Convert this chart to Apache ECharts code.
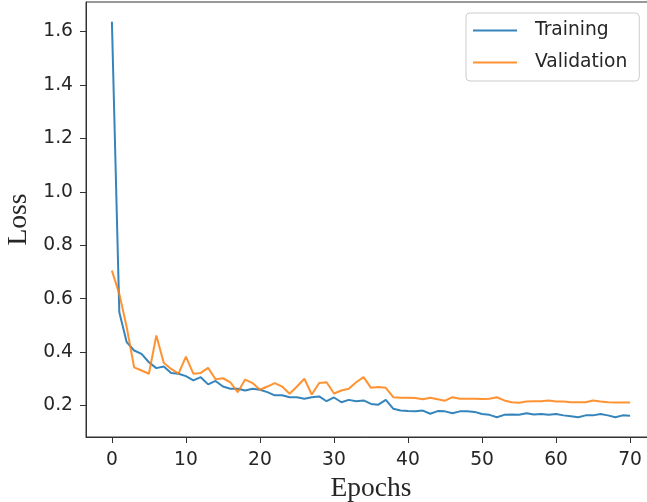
<!DOCTYPE html>
<html>
<head>
<meta charset="utf-8">
<script src="https://cdn.jsdelivr.net/npm/echarts@6/dist/echarts.min.js"></script>
<style>
  html, body { margin: 0; padding: 0; background: #fff; }
  #chart { width: 647px; height: 502px; }
</style>
</head>
<body>
<div id="chart"></div>
<script>
// data
const epochs = [
  0, 1, 2, 3, 4, 5, 6, 7, 8, 9, 10, 11, 12, 13, 14, 15, 16, 17, 18, 19,
  20, 21, 22, 23, 24, 25, 26, 27, 28, 29, 30, 31, 32, 33, 34, 35, 36, 37, 38, 39,
  40, 41, 42, 43, 44, 45, 46, 47, 48, 49, 50, 51, 52, 53, 54, 55, 56, 57, 58, 59,
  60, 61, 62, 63, 64, 65, 66, 67, 68, 69, 70
];
const trainLoss = [
  1.637, 0.549, 0.437, 0.406, 0.393, 0.362, 0.340, 0.346, 0.322, 0.319,
  0.310, 0.294, 0.306, 0.279, 0.292, 0.271, 0.263, 0.263, 0.256, 0.263,
  0.259, 0.250, 0.238, 0.238, 0.231, 0.231, 0.225, 0.231, 0.234, 0.216,
  0.230, 0.212, 0.221, 0.216, 0.219, 0.206, 0.203, 0.221, 0.188, 0.181,
  0.179, 0.178, 0.181, 0.169, 0.179, 0.178, 0.171, 0.178, 0.178, 0.176,
  0.168, 0.165, 0.156, 0.165, 0.166, 0.165, 0.171, 0.166, 0.168, 0.165,
  0.168, 0.163, 0.160, 0.156, 0.163, 0.163, 0.168, 0.163, 0.156, 0.163,
  0.162
];
const valLoss = [
  0.705, 0.618, 0.493, 0.343, 0.331, 0.319, 0.462, 0.360, 0.337, 0.319,
  0.383, 0.319, 0.322, 0.341, 0.298, 0.302, 0.287, 0.250, 0.297, 0.284,
  0.259, 0.271, 0.284, 0.271, 0.244, 0.271, 0.300, 0.241, 0.284, 0.287,
  0.245, 0.256, 0.263, 0.287, 0.306, 0.266, 0.269, 0.266, 0.231, 0.229,
  0.229, 0.228, 0.223, 0.229, 0.223, 0.218, 0.231, 0.225, 0.225, 0.225,
  0.224, 0.225, 0.231, 0.219, 0.212, 0.210, 0.215, 0.216, 0.216, 0.219,
  0.215, 0.215, 0.212, 0.212, 0.212, 0.219, 0.215, 0.212, 0.211, 0.211,
  0.211
];
const xTicks = [0, 10, 20, 30, 40, 50, 60, 70];
const yTicks = [0.2, 0.4, 0.6, 0.8, 1.0, 1.2, 1.4, 1.6];

const sans = 'DejaVu Sans';
const serif = 'Liberation Serif';
const ink = '#262626';
const spine = '#333';

const pairs = (ys) => epochs.map((e, i) => [e, ys[i]]);

const chart = echarts.init(document.getElementById('chart'), null, { renderer: 'canvas' });
chart.setOption({
  animation: false,
  grid: {
    left: 86, top: 2, width: 570, height: 435,
    outerBoundsMode: 'none',
    containLabel: false,
    show: true, borderColor: spine, borderWidth: 1, backgroundColor: 'transparent'
  },
  legend: {
    orient: 'vertical',
    left: 466, top: 13,
    padding: [8, 12, 9, 6],
    itemWidth: 44, itemHeight: 20, itemGap: 13,
    backgroundColor: '#fff',
    borderColor: '#cccccc', borderWidth: 1, borderRadius: 4,
    itemStyle: { opacity: 0 },
    textStyle: { fontFamily: sans, fontSize: 18.7, color: ink, padding: [0, 0, 0, 13] },
    data: ['Training', 'Validation']
  },
  xAxis: {
    type: 'value',
    min: -3.5, max: 73.5,
    name: 'Epochs',
    nameLocation: 'middle',
    nameGap: 37,
    nameTextStyle: { fontFamily: serif, fontSize: 27.5, color: ink },
    axisLine: { show: true, onZero: false, lineStyle: { color: spine, width: 1 } },
    axisTick: { show: true, length: 6, lineStyle: { color: spine }, customValues: xTicks },
    axisLabel: { fontFamily: sans, fontSize: 18.7, color: ink, margin: 14, customValues: xTicks },
    splitLine: { show: false }
  },
  yAxis: {
    type: 'value',
    min: 0.082, max: 1.711,
    name: 'Loss',
    nameLocation: 'middle',
    nameGap: 50,
    nameRotate: 90,
    nameTextStyle: { fontFamily: serif, fontSize: 27.5, color: ink },
    axisLine: { show: true, onZero: false, lineStyle: { color: spine, width: 1 } },
    axisTick: { show: true, length: 6, lineStyle: { color: spine }, customValues: yTicks },
    axisLabel: {
      fontFamily: sans, fontSize: 18.7, color: ink, margin: 13,
      customValues: yTicks,
      formatter: (v) => v.toFixed(1)
    },
    splitLine: { show: false }
  },
  series: [
    {
      name: 'Training', type: 'line', data: pairs(trainLoss),
      symbol: 'none', color: '#1f77b4',
      lineStyle: { width: 2, color: '#1f77b4', opacity: 0.9 }
    },
    {
      name: 'Validation', type: 'line', data: pairs(valLoss),
      symbol: 'none', color: '#ff7f0e',
      lineStyle: { width: 2, color: '#ff7f0e', opacity: 0.85 }
    }
  ]
});
</script>
</body>
</html>
